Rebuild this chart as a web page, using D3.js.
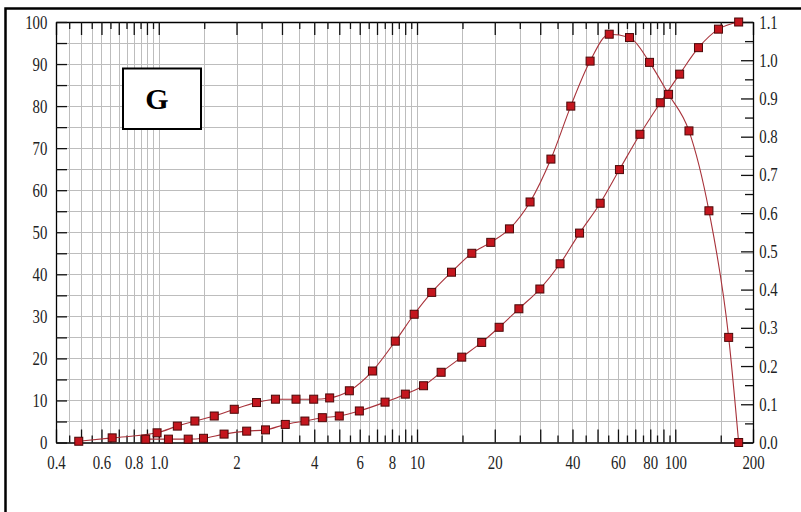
<!DOCTYPE html>
<html>
<head>
<meta charset="utf-8">
<script src="https://cdn.jsdelivr.net/npm/d3@7"></script>
<style>
  html, body { margin: 0; padding: 0; background: #fff; }
  svg { display: block; }
</style>
</head>
<body>
<svg id="chart" width="801" height="512"></svg>
<script>
// Particle size (µm) and frequency of the differential distribution
const distSize = [0.49, 0.66, 0.985, 1.18, 1.38, 1.64, 1.96, 2.39, 2.83, 3.40, 3.98, 4.59, 5.47, 6.72, 8.24, 9.75,
  11.4, 13.6, 16.3, 19.3, 22.8, 27.4, 33.0, 39.4, 46.8, 55.5, 66.5, 79.5, 94.2, 113, 135, 161, 176];
const distValue = [0.3, 1.1, 2.3, 3.9, 5.1, 6.3, 7.9, 9.5, 10.3, 10.3, 10.3, 10.6, 12.3, 17.0, 24.1, 30.5,
  35.7, 40.5, 45.0, 47.6, 50.8, 57.2, 67.4, 80.0, 90.7, 97.1, 96.3, 90.4, 82.8, 74.1, 55.1, 25.0, 0];

// Particle size (µm) and cumulative percentage passing
const cumSize = [0.89, 1.09, 1.30, 1.49, 1.79, 2.19, 2.59, 3.09, 3.68, 4.30, 5.00, 5.98, 7.52, 9.01, 10.6, 12.4,
  14.9, 17.8, 20.8, 24.8, 29.9, 35.8, 42.6, 51.2, 60.8, 73.0, 87.5, 104, 123, 147, 176];
const cumValue = [0.8, 0.8, 0.8, 1.0, 2.0, 2.7, 3.0, 4.3, 5.1, 5.9, 6.3, 7.5, 9.6, 11.5, 13.5, 16.7,
  20.3, 23.8, 27.4, 31.8, 36.5, 42.5, 49.8, 56.9, 64.9, 73.3, 80.8, 87.6, 93.9, 98.3, 100];

// Axis ticks and labels
const xLabelValues = [0.4, 0.6, 0.8, 1, 2, 4, 6, 8, 10, 20, 40, 60, 80, 100, 200];
const xLabelText = ["0.4", "0.6", "0.8", "1.0", "2", "4", "6", "8", "10", "20", "40", "60", "80", "100", "200"];
const leftTicks = [0, 5, 10, 15, 20, 25, 30, 35, 40, 45, 50, 55, 60, 65, 70, 75, 80, 85, 90, 95, 100];
const leftLabels = [0, 10, 20, 30, 40, 50, 60, 70, 80, 90, 100];
const rightMajor = [0, 0.1, 0.2, 0.3, 0.4, 0.5, 0.6, 0.7, 0.8, 0.9, 1.0, 1.1];
const rightMajorText = ["0.0", "0.1", "0.2", "0.3", "0.4", "0.5", "0.6", "0.7", "0.8", "0.9", "1.0", "1.1"];
const rightMinor = [0.05, 0.15, 0.25, 0.35, 0.45, 0.55, 0.65, 0.75, 0.85, 0.95, 1.05];
const panelLabel = "G";

// Log-axis tick positions: whole multiples of each decade (long) and the half steps between (short)
const longTicks = [], shortTicks = [];
[0.1, 1, 10, 100].forEach(dec => {
  for (let m = 1; m <= 9.5; m += 0.5) {
    const v = +(m * dec).toPrecision(6);
    if (v < 0.4 || v > 200) continue;
    (Number.isInteger(m) ? longTicks : shortTicks).push(v);
  }
});

const svg = d3.select("#chart");
const x = d3.scaleLog().domain([0.4, 200]).range([56, 753]);
const y = d3.scaleLinear().domain([0, 100]).range([442.5, 22]);
const yR = d3.scaleLinear().domain([0, 1.1]).range([442.5, 22]);
const [x0, x1] = x.range(), [y0, y1] = y.range();

svg.append("rect").attr("width", 801).attr("height", 512).attr("fill", "#fff");

// outer frame (runs off the right and bottom edges)
svg.append("rect").attr("x", 5.5).attr("y", 8.5).attr("width", 820).attr("height", 540)
  .attr("fill", "none").attr("stroke", "#000").attr("stroke-width", 2.5);

// grid
const grid = svg.append("g").attr("stroke", "#bdbdbd").attr("stroke-width", 1);
longTicks.concat(shortTicks).filter(v => v > 0.4 && v < 200).forEach(v => {
  const px = Math.round(x(v)) + 0.5;
  grid.append("line").attr("x1", px).attr("x2", px).attr("y1", y1).attr("y2", y0);
});
leftTicks.filter(v => v > 0 && v < 100).forEach(v => {
  const py = Math.round(y(v)) + 0.5;
  grid.append("line").attr("x1", x0).attr("x2", x1).attr("y1", py).attr("y2", py);
});

const labelOf = new Map(xLabelValues.map((v, i) => [v, xLabelText[i]]));
// tall, narrow serif tick labels
const styleText = g => g.selectAll("text")
  .attr("font-family", "'Liberation Serif', 'Times New Roman', serif")
  .attr("font-size", 19).attr("fill", "#222")
  .attr("transform", "scale(0.78,1)");

// bottom axis (ticks point inward)
svg.append("g").attr("transform", `translate(0,${y0})`)
  .call(d3.axisBottom(x).tickValues(longTicks).tickSizeInner(-13).tickSizeOuter(0).tickPadding(13)
    .tickFormat(d => labelOf.get(d) || ""))
  .call(styleText);
svg.append("g").attr("transform", `translate(0,${y0})`)
  .call(d3.axisBottom(x).tickValues(shortTicks).tickSize(-7).tickFormat(""))
  .call(g => g.select(".domain").remove());

// top axis
svg.append("g").attr("transform", `translate(0,${y1})`)
  .call(d3.axisTop(x).tickValues(longTicks).tickSizeInner(-13).tickSizeOuter(0).tickFormat(""));
svg.append("g").attr("transform", `translate(0,${y1})`)
  .call(d3.axisTop(x).tickValues(shortTicks).tickSize(-7).tickFormat(""))
  .call(g => g.select(".domain").remove());

// left axis
svg.append("g").attr("transform", `translate(${x0},0)`)
  .call(d3.axisLeft(y).tickValues(leftTicks).tickSizeInner(-11).tickSizeOuter(0).tickPadding(11)
    .tickFormat(d => leftLabels.includes(d) ? d : ""))
  .call(styleText);

// right axis
svg.append("g").attr("transform", `translate(${x1},0)`)
  .call(d3.axisRight(yR).tickValues(rightMajor).tickSizeInner(-12).tickSizeOuter(0).tickPadding(8)
    .tickFormat((d, i) => rightMajorText[i]))
  .call(styleText);
svg.append("g").attr("transform", `translate(${x1},0)`)
  .call(d3.axisRight(yR).tickValues(rightMinor).tickSize(-8).tickFormat(""))
  .call(g => g.select(".domain").remove());

svg.selectAll(".domain").attr("stroke", "#000").attr("stroke-width", 1.3);
svg.selectAll(".tick line").attr("stroke", "#111").attr("stroke-width", 1.3);

// series
const line = d3.line().x(d => x(d[0])).y(d => y(d[1])).curve(d3.curveMonotoneX);
const series = [
  d3.zip(distSize, distValue),
  d3.zip(cumSize, cumValue)
];

const plot = svg.append("g");
series.forEach(pts => {
  plot.append("path").datum(pts).attr("d", line)
    .attr("fill", "none").attr("stroke", "#a8323a").attr("stroke-width", 1.1);
});
series.forEach(pts => {
  plot.selectAll(null).data(pts).join("rect")
    .attr("x", d => x(d[0]) - 4).attr("y", d => y(d[1]) - 4)
    .attr("width", 8).attr("height", 8)
    .attr("fill", "#c4161e").attr("stroke", "#4a0808").attr("stroke-width", 1);
});

// panel label box
svg.append("rect").attr("x", 123).attr("y", 68.5).attr("width", 78).attr("height", 60.5)
  .attr("fill", "#fff").attr("stroke", "#000").attr("stroke-width", 2);
svg.append("text").attr("x", 157).attr("y", 109).attr("text-anchor", "middle")
  .attr("font-family", "'Liberation Serif', 'Times New Roman', serif")
  .attr("font-weight", "bold").attr("font-size", 30).attr("fill", "#000")
  .text(panelLabel);
</script>
</body>
</html>
